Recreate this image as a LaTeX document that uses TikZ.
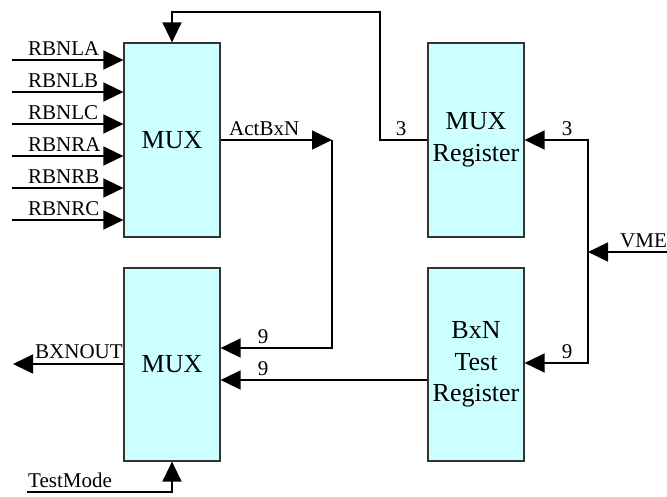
\documentclass[tikz,border=0pt]{standalone}
\usepackage{fontspec}
\setmainfont{Liberation Serif}
\usetikzlibrary{arrows.meta,calc}
\definecolor{boxfill}{HTML}{CCFFFF}
\definecolor{boxline}{HTML}{333333}
\begin{document}
\begin{tikzpicture}[x=1pt,y=-1pt,
  blk/.style={draw=boxline,line width=1.2pt,fill=boxfill,minimum width=96pt,inner sep=0pt,
     align=center,font=\fontsize{26}{31.5}\selectfont},
  arr/.style={line width=1.4pt,-{Triangle[length=20pt,width=19pt]}},
  wire/.style={line width=1.4pt},
  lbl/.style={font=\fontsize{21}{24}\selectfont,inner sep=0pt,anchor=base west}]
\useasboundingbox (0,0) rectangle (667,496);
% blocks
\node[blk,minimum height=194pt] (mux1) at (172,140) {MUX};
\node[blk,minimum height=194pt] (muxreg) at (476,140) {MUX\\Register};
\node[blk,minimum height=193pt] (mux2) at (172,364.5) {MUX};
\node[blk,minimum height=193pt] (bxnreg) at (476,364.5) {BxN\\Test\\Register};
% inputs
\foreach \n/\y/\t in {a/60/RBNLA,b/92/RBNLB,c/124/RBNLC,d/156/RBNRA,e/188/RBNRB,f/220/RBNRC}{
  \coordinate (in\n) at (12,\y);
  \draw[arr] (in\n) -- (in\n -| mux1.west);
  \node[lbl] (l\n) at (28,\y-5) {\t};
}
% feedback from MUX register
\coordinate (fbA) at (380,12);
\draw[arr] (muxreg.west) -| (fbA) -| (mux1.north);
\node[lbl,anchor=base] (l3a) at (401,135) {3};
% ActBxN
\coordinate (actc) at (332,140);
\draw[arr] (mux1.east) -- (actc);
\node[lbl] (lact) at (229,135) {ActBxN};
\draw[arr] (actc) |- ([yshift=16.5pt]mux2.east);
\node[lbl,anchor=base] (l9a) at (263,343) {9};
% BxN test register to MUX
\draw[arr] ([yshift=-15.5pt]bxnreg.west) -- ([yshift=-15.5pt]mux2.east);
\node[lbl,anchor=base] (l9b) at (263,375) {9};
% VME
\coordinate (vme) at (667,252);
\coordinate (vj) at (588,252);
\draw[arr] (vme) -- (vj);
\node[lbl] (lvme) at (620,247) {VME};
\draw[arr] (vj) |- (muxreg.east);
\node[lbl,anchor=base] (l3b) at (567,135) {3};
\draw[arr] (vj) |- ([yshift=1.5pt]bxnreg.east);
\node[lbl,anchor=base] (l9c) at (567,358) {9};
% BXNOUT
\coordinate (bxo) at (13,364);
\draw[arr] (mux2.west |- bxo) -- (bxo);
\node[lbl] (lbxo) at (35,358) {BXNOUT};
% TestMode
\coordinate (tm) at (27,492);
\draw[arr] (tm) -| (mux2.south);
\node[lbl] (ltm) at (28,487) {TestMode};
\end{tikzpicture}
\end{document}
